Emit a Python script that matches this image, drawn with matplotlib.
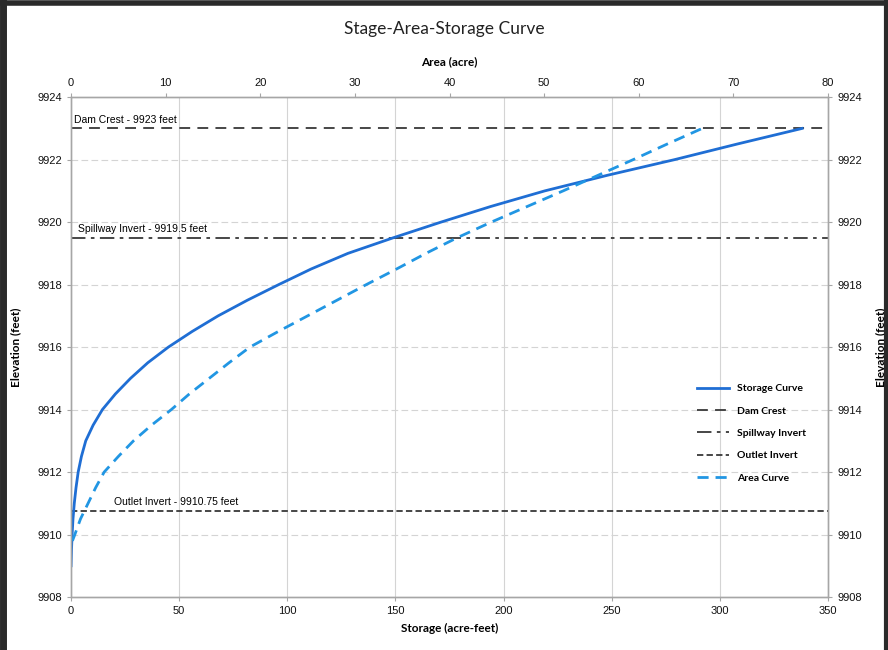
import numpy as np
import matplotlib.pyplot as plt
from matplotlib.lines import Line2D

# Stage-storage data (elevation in feet, storage in acre-feet)
storage_elev = [9909, 9909.5, 9910, 9910.5, 9911, 9911.5, 9912, 9912.5,
                9913, 9913.5, 9914, 9914.5, 9915, 9915.5, 9916, 9916.5,
                9917, 9917.5, 9918, 9918.5, 9919, 9919.5, 9920, 9920.5,
                9921, 9921.5, 9922, 9922.5, 9923]
storage = [0, 0.2, 0.5, 0.9, 1.5, 2.3, 3.3, 4.8,
           6.8, 10.2, 14.5, 20.5, 27.5, 35.5, 45, 56,
           68, 81.5, 96, 111, 128, 149, 171, 194,
           219, 248, 279, 308, 338]

# Stage-area data (elevation in feet, area in acre)
area_elev = [9909.8, 9910, 9910.5, 9911, 9911.5, 9912, 9912.5, 9913,
             9913.5, 9914, 9914.5, 9915, 9915.5, 9916, 9916.5, 9917,
             9917.5, 9918, 9918.5, 9919, 9919.5, 9920, 9920.5, 9921,
             9921.5, 9922, 9922.5, 9923]
area = [0.15, 0.4, 1.0, 1.8, 2.6, 3.5, 5.0, 6.6,
        8.5, 10.6, 12.5, 14.6, 16.7, 18.9, 21.9, 25.0,
        28.1, 31.2, 34.4, 37.5, 40.8, 44.4, 48.2, 52.0,
        55.7, 59.4, 63.0, 66.7]

# reference elevations
dam_crest = 9923
spillway = 9919.5
outlet = 9910.75

storage_ticks = [0, 50, 100, 150, 200, 250, 300, 350]
area_ticks = [0, 10, 20, 30, 40, 50, 60, 70, 80]
elev_ticks = [9908, 9910, 9912, 9914, 9916, 9918, 9920, 9922, 9924]

lbl_font = 'Lato'
num_font = 'Liberation Sans'
ref_col = '#383838'
grid_col = '#d4d4d4'
spine_col = '#a6a6a6'

fig = plt.figure(figsize=(8.88, 6.5), dpi=100)
ax = fig.add_axes([0.080, 0.0815, 0.8525, 0.769])

# gridlines
for s in storage_ticks[1:-1]:
    ax.axvline(s, color=grid_col, lw=0.8, zorder=0)
for e in elev_ticks[1:-1]:
    ax.axhline(e, color=grid_col, lw=0.8, ls=(0, (6, 3)), zorder=0)

h_storage, = ax.plot(storage, storage_elev, color='#1f6ed4', lw=2.0,
                     label='Storage Curve', zorder=3)
h_dam = ax.axhline(dam_crest, color=ref_col, lw=1.3, ls=(0, (6, 4)),
                   label='Dam Crest', zorder=2)
h_spill = ax.axhline(spillway, color=ref_col, lw=1.3, ls=(0, (8, 3, 2, 3)),
                     label='Spillway Invert', zorder=2)
h_out = ax.axhline(outlet, color=ref_col, lw=1.3, ls=(0, (3.5, 1.8)),
                   label='Outlet Invert', zorder=2)

ax.set_xlim(0, 350)
ax.set_ylim(9908, 9924)
ax.set_xticks(storage_ticks)
ax.set_yticks(elev_ticks)
ax.set_xticklabels([str(v) for v in storage_ticks], fontfamily=num_font, fontsize=8)
ax.set_yticklabels([str(v) for v in elev_ticks], fontfamily=num_font, fontsize=8)
ax.set_xlabel('Storage (acre-feet)', fontfamily=lbl_font, fontweight='bold',
              fontsize=8.5, labelpad=5)
ax.set_ylabel('Elevation (feet)', fontfamily=lbl_font, fontweight='bold',
              fontsize=8.5)
ax.yaxis.set_label_coords(-0.066, 0.5)

# text labels for reference lines
ax.text(1.5, dam_crest + 0.12, 'Dam Crest - 9923 feet', fontfamily=num_font,
        fontsize=7.5, va='bottom')
ax.text(3, spillway + 0.12, 'Spillway Invert - 9919.5 feet', fontfamily=num_font,
        fontsize=7.5, va='bottom')
ax.text(20, outlet + 0.12, 'Outlet Invert - 9910.75 feet', fontfamily=num_font,
        fontsize=7.5, va='bottom')

# area on top axis
ax_top = ax.twiny()
h_area, = ax_top.plot(area, area_elev, color='#2196e3', lw=2.0,
                      ls=(0, (4, 2.5)), label='Area Curve', zorder=3)
ax_top.set_xlim(0, 80)
ax_top.set_xticks(area_ticks)
ax_top.set_xticklabels([str(v) for v in area_ticks], fontfamily=num_font, fontsize=8)
ax_top.set_xlabel('Area (acre)', fontfamily=lbl_font, fontweight='bold',
                  fontsize=8.5, labelpad=9)

# mirrored elevation axis on the right
ax_r = ax.twinx()
ax_r.set_ylim(9908, 9924)
ax_r.set_yticks(elev_ticks)
ax_r.set_yticklabels([str(v) for v in elev_ticks], fontfamily=num_font, fontsize=8)
ax_r.set_ylabel('Elevation (feet)', fontfamily=lbl_font, fontweight='bold',
                fontsize=8.5, rotation=90)
ax_r.yaxis.set_label_coords(1.062, 0.5)

for a in (ax, ax_top, ax_r):
    for sp in a.spines.values():
        sp.set_color(spine_col)
        sp.set_linewidth(0.9)
    a.tick_params(colors=spine_col, labelcolor='#111111', length=3, width=0.8)

leg = ax_r.legend(handles=[h_storage, h_dam, h_spill, h_out, h_area],
                  loc='upper left', bbox_to_anchor=(0.815, 0.445),
                  frameon=False, handlelength=3.0, labelspacing=1.25,
                  prop={'family': lbl_font, 'weight': 'bold', 'size': 7.5})

fig.suptitle('Stage-Area-Storage Curve', y=0.968, fontfamily=lbl_font,
             fontsize=12.5, color='#222222')

# dark frame around the picture (left, top, right)
fig.add_artist(Line2D([0.003, 0.003], [0, 1], transform=fig.transFigure,
                      color='#2a2a2a', lw=5))
fig.add_artist(Line2D([0, 1], [0.996, 0.996], transform=fig.transFigure,
                      color='#2a2a2a', lw=4))
fig.add_artist(Line2D([0.998, 0.998], [0, 1], transform=fig.transFigure,
                      color='#2a2a2a', lw=3))

fig.savefig('out.png', dpi=100)
